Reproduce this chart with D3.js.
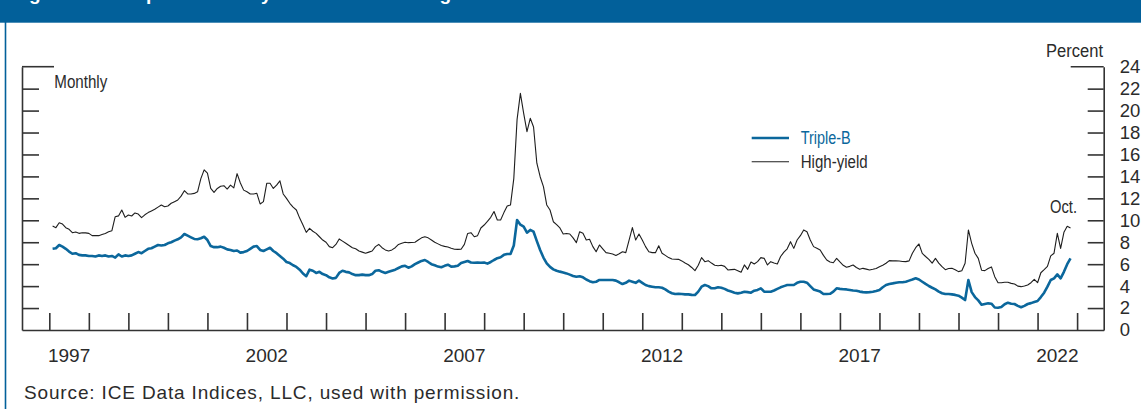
<!DOCTYPE html>
<html>
<head>
<meta charset="utf-8">
<script src="https://cdn.jsdelivr.net/npm/d3@7/dist/d3.min.js"></script>
<style>
  html, body { margin: 0; padding: 0; background: #fff; }
  svg { display: block; }
</style>
</head>
<body>
<svg id="chart" width="1141" height="409"></svg>
<script>
// ---- Data (monthly, Jan 1997 – Oct 2022, percent) ----
const startYear = 1997;
const seriesNames = ["Triple-B", "High-yield"];
const yTickValues = [0, 2, 4, 6, 8, 10, 12, 14, 16, 18, 20, 22, 24];
const yearTicks = d3.range(1997, 2024);
const yearLabels = [1997, 2002, 2007, 2012, 2017, 2022];

const highYield = [
  // 1997
  9.48, 9.33, 9.78, 9.66, 9.33, 9.18, 8.87, 8.93, 8.81, 8.87, 8.85, 8.81,
  // 1998
  8.6, 8.6, 8.6, 8.7, 8.8, 8.95, 9.05, 10.33, 10.4, 10.94, 10.27, 10.48,
  // 1999
  10.39, 10.67, 10.57, 10.24, 10.5, 10.7, 10.85, 11.0, 11.2, 11.4, 11.24, 11.3,
  // 2000
  11.55, 11.7, 11.85, 12.2, 12.7, 12.4, 12.4, 12.45, 12.6, 13.8, 14.6, 14.3,
  // 2001
  12.9, 12.55, 12.9, 13.1, 13.15, 12.85, 13.2, 12.95, 14.25, 13.4, 12.75, 12.6,
  // 2002
  12.4, 12.4, 12.46, 11.49, 11.7, 13.37, 13.37, 12.9, 13.2, 13.6, 12.4, 12.0,
  // 2003
  11.55, 11.2, 10.94, 10.2, 9.57, 8.9, 9.27, 9.0, 8.81, 8.5, 8.2, 8.0,
  // 2004
  7.6, 7.5, 7.8, 8.3, 8.1, 7.9, 7.7, 7.5, 7.4, 7.2, 7.1, 7.0,
  // 2005
  7.1, 7.2, 7.6, 7.8, 7.5, 7.3, 7.2, 7.3, 7.5, 7.8, 7.9, 8.0,
  // 2006
  7.96, 7.98, 8.0, 8.2, 8.4, 8.5, 8.4, 8.2, 8.0, 7.85, 7.7, 7.62,
  // 2007
  7.56, 7.45, 7.36, 7.35, 7.36, 7.8, 8.8, 8.87, 8.5, 8.6, 9.3, 9.57,
  // 2008
  9.9, 10.27, 10.8, 10.03, 10.03, 10.7, 11.3, 11.4, 13.8, 19.2, 21.57, 19.75,
  // 2009
  18.08, 19.3, 18.5, 15.2, 13.97, 13.07, 11.4, 10.94, 9.87, 9.6, 9.3, 8.75,
  // 2010
  8.8, 8.75, 8.4, 7.96, 8.96, 8.81, 8.2, 8.27, 7.6, 7.13, 7.75, 7.4,
  // 2011
  7.05, 7.0, 6.93, 6.8, 6.95, 7.13, 7.05, 8.2, 9.33, 8.2, 8.75, 8.2,
  // 2012
  7.6, 7.13, 7.05, 7.05, 7.68, 7.0, 6.8, 6.6, 6.47, 6.45, 6.44, 6.3,
  // 2013
  6.1, 5.95, 5.7, 5.41, 5.9, 6.6, 6.23, 6.32, 6.1, 5.9, 5.86, 5.9,
  // 2014
  5.8, 5.47, 5.5, 5.53, 5.4, 5.26, 5.93, 5.53, 6.2, 6.02, 6.23, 6.6,
  // 2015
  6.53, 5.93, 6.23, 6.1, 6.02, 6.7, 7.1, 7.4, 8.05, 7.44, 8.2, 8.6,
  // 2016
  9.12, 8.96, 8.2, 7.6, 7.45, 7.29, 6.8, 6.38, 6.2, 6.13, 6.53, 6.2,
  // 2017
  5.9, 5.72, 5.8, 5.93, 5.7, 5.53, 5.62, 5.55, 5.47, 5.53, 5.6, 5.77,
  // 2018
  5.9, 6.08, 6.32, 6.3, 6.3, 6.29, 6.25, 6.23, 6.3, 7.0, 7.5, 7.84,
  // 2019
  6.99, 6.7, 6.44, 6.1, 6.53, 6.1, 5.77, 5.5, 5.6, 5.62, 5.5, 5.32,
  // 2020
  5.4, 6.08, 9.12, 7.9, 7.0, 6.53, 5.45, 5.41, 5.6, 5.75, 4.86, 4.31,
  // 2021
  4.3, 4.35, 4.35, 4.25, 4.19, 4.0, 3.95, 4.01, 4.1, 4.31, 4.62, 4.31,
  // 2022 (Jan–Oct)
  5.22, 5.5, 5.8, 6.75, 7.0, 8.81, 7.44, 8.9, 9.45, 9.3
];

const tripleB = [
  // 1997
  7.4, 7.45, 7.75, 7.6, 7.4, 7.15, 6.95, 7.0, 6.85, 6.8, 6.8, 6.75,
  // 1998
  6.75, 6.7, 6.8, 6.75, 6.8, 6.7, 6.75, 6.6, 6.9, 6.7, 6.8, 6.75,
  // 1999
  6.8, 6.95, 7.1, 7.0, 7.2, 7.4, 7.45, 7.6, 7.75, 7.7, 7.75, 7.9,
  // 2000
  8.0, 8.15, 8.27, 8.45, 8.75, 8.6, 8.45, 8.3, 8.27, 8.36, 8.5, 8.2,
  // 2001
  7.65, 7.55, 7.55, 7.6, 7.5, 7.35, 7.3, 7.2, 7.25, 7.05, 7.1, 7.2,
  // 2002
  7.4, 7.6, 7.65, 7.3, 7.2, 7.35, 7.5, 7.2, 7.0, 6.75, 6.5, 6.2,
  // 2003
  6.1, 5.9, 5.75, 5.5, 5.15, 4.9, 5.5, 5.4, 5.2, 5.3, 5.1, 5.0,
  // 2004
  4.8, 4.7, 4.75, 5.2, 5.4, 5.3, 5.25, 5.1, 5.0, 5.0, 5.05, 5.0,
  // 2005
  5.0, 5.1, 5.4, 5.45, 5.3, 5.2, 5.3, 5.4, 5.5, 5.65, 5.8, 5.85,
  // 2006
  5.68, 5.8, 6.0, 6.15, 6.3, 6.38, 6.2, 6.0, 5.9, 5.78, 5.72, 5.85,
  // 2007
  5.95, 5.78, 5.8, 5.85, 6.1, 6.2, 6.29, 6.15, 6.13, 6.15, 6.13, 6.15,
  // 2008
  6.05, 6.2, 6.38, 6.55, 6.63, 6.85, 6.93, 6.93, 7.7, 10.03, 9.6, 9.42,
  // 2009
  8.87, 9.12, 8.96, 8.1, 7.29, 6.6, 6.08, 5.75, 5.53, 5.4, 5.32, 5.25,
  // 2010
  5.16, 5.05, 4.92, 4.85, 4.9, 4.8, 4.6, 4.45, 4.35, 4.4, 4.56, 4.56,
  // 2011
  4.56, 4.56, 4.56, 4.5, 4.35, 4.19, 4.3, 4.5, 4.4, 4.3, 4.5, 4.3,
  // 2012
  4.1, 4.0, 3.95, 3.9, 3.89, 3.85, 3.7, 3.5, 3.35, 3.28, 3.3, 3.28,
  // 2013
  3.25, 3.25, 3.2, 3.19, 3.5, 3.95, 4.1, 4.0, 3.8, 3.8, 3.89, 3.85,
  // 2014
  3.75, 3.6, 3.5, 3.4, 3.34, 3.4, 3.49, 3.45, 3.4, 3.58, 3.65, 3.8,
  // 2015
  3.5, 3.49, 3.49, 3.6, 3.75, 3.89, 4.0, 4.1, 4.1, 4.1, 4.3, 4.4,
  // 2016
  4.4, 4.31, 4.0, 3.7, 3.6, 3.5, 3.28, 3.28, 3.3, 3.49, 3.8, 3.75,
  // 2017
  3.72, 3.7, 3.65, 3.6, 3.58, 3.5, 3.45, 3.43, 3.45, 3.49, 3.55, 3.65,
  // 2018
  3.9, 4.1, 4.2, 4.25, 4.31, 4.35, 4.35, 4.4, 4.5, 4.6, 4.71, 4.6,
  // 2019
  4.4, 4.2, 4.01, 3.85, 3.7, 3.5, 3.35, 3.28, 3.28, 3.25, 3.2, 3.13,
  // 2020
  2.95, 2.73, 4.56, 3.45, 3.0, 2.7, 2.3, 2.37, 2.43, 2.4, 2.05, 2.03,
  // 2021
  2.1, 2.35, 2.49, 2.4, 2.37, 2.2, 2.07, 2.2, 2.37, 2.45, 2.55, 2.64,
  // 2022 (Jan–Oct)
  3.0, 3.4, 3.95, 4.56, 4.71, 5.07, 4.71, 5.3, 6.0, 6.53
];

// ---- Layout ----
const svg = d3.select("#chart");
const W = 1141, H = 409;
const blue = "#0b679c";
const barBlue = "#02609a";
const axisColor = "#333";
const textColor = "#2b2b2b";
const sansFont = "'Liberation Sans', Arial, sans-serif";

const plotLeft = 22, plotRight = 1103.7, plotTop = 66.7, plotBottom = 330;

const x = d3.scaleLinear().domain([1996.309, 2023.673]).range([plotLeft, plotRight]);
const y = d3.scaleLinear().domain([0, 24]).range([plotBottom, plotTop]);

// month-end time positions
const toT = i => startYear + (i + 1) / 12;

// condensed label helper (reference uses a condensed face)
function condText(sel, str, width) {
  return sel.attr("font-family", sansFont)
    .attr("textLength", width).attr("lengthAdjust", "spacingAndGlyphs")
    .text(str);
}

// Title bar
svg.append("rect").attr("x", 0).attr("y", 0).attr("width", W).attr("height", 22.7).attr("fill", barBlue);
svg.append("text")
  .attr("x", 12).attr("y", -0.5)
  .attr("fill", "#fff")
  .attr("font-family", sansFont).attr("font-weight", "bold").attr("font-size", 19)
  .text("Figure 2-4. Corporate bond yields rose to the high end of their historical distribution");
// left border
svg.append("line").attr("x1", 5.5).attr("x2", 5.5).attr("y1", 22).attr("y2", H)
  .attr("stroke", barBlue).attr("stroke-width", 1.6);

// ---- Axes ----
const leftTicks = yTickValues.filter(v => v > 0 && v < 24);

const gLeft = svg.append("g").attr("transform", `translate(${plotLeft},0)`)
  .call(d3.axisRight(y).tickValues(leftTicks).tickSize(17).tickSizeOuter(0).tickFormat(""));
const gRight = svg.append("g").attr("transform", `translate(${plotRight},0)`)
  .call(d3.axisLeft(y).tickValues(leftTicks).tickSize(16).tickSizeOuter(0).tickFormat(""));
const gBottom = svg.append("g").attr("transform", `translate(0,${plotBottom})`)
  .call(d3.axisTop(x).tickValues(yearTicks).tickSize(17).tickSizeOuter(0).tickFormat(""));

[gLeft, gRight, gBottom].forEach(g => {
  g.selectAll("path.domain").attr("stroke", axisColor).attr("stroke-width", 1.6);
  g.selectAll(".tick line").attr("stroke", axisColor).attr("stroke-width", 1.6);
});

// top caps (longer tick at 24)
svg.append("line").attr("x1", plotLeft).attr("x2", plotLeft + 32)
  .attr("y1", y(24)).attr("y2", y(24)).attr("stroke", axisColor).attr("stroke-width", 1.6);
svg.append("line").attr("x1", plotRight - 33).attr("x2", plotRight)
  .attr("y1", y(24)).attr("y2", y(24)).attr("stroke", axisColor).attr("stroke-width", 1.6);

// right tick labels
const gRightLab = svg.append("g").attr("transform", `translate(${plotRight},0)`)
  .call(d3.axisRight(y).tickValues(yTickValues).tickSize(0).tickPadding(16).tickFormat(d3.format("d")));
gRightLab.select("path.domain").remove();
gRightLab.selectAll("text").attr("font-family", sansFont).attr("font-size", 18.5).attr("fill", textColor);

// year labels centered in the year
svg.append("g").selectAll("text").data(yearLabels).join("text")
  .attr("x", d => x(d + 0.5)).attr("y", 361.5)
  .attr("text-anchor", "middle")
  .attr("font-family", sansFont).attr("font-size", 19).attr("fill", textColor)
  .text(d => d);

// ---- Lines ----
const line = d3.line().x((d, i) => x(toT(i))).y(d => y(d));

svg.append("path").datum(highYield)
  .attr("d", line).attr("fill", "none").attr("stroke", "#1e1e1e").attr("stroke-width", 1.1)
  .attr("stroke-linejoin", "round");
svg.append("path").datum(tripleB)
  .attr("d", line).attr("fill", "none").attr("stroke", blue).attr("stroke-width", 2.6)
  .attr("stroke-linejoin", "round");

// ---- Labels ----
condText(svg.append("text").attr("x", 54.3).attr("y", 88.3)
  .attr("font-size", 17.5).attr("fill", textColor), "Monthly", 53);
condText(svg.append("text").attr("x", 1046).attr("y", 57.3)
  .attr("font-size", 18).attr("fill", textColor), "Percent", 57);
condText(svg.append("text").attr("x", 1050).attr("y", 213.3)
  .attr("font-size", 17.5).attr("fill", textColor), "Oct.", 27);

// legend
const legend = svg.append("g");
const legendItems = [
  { name: seriesNames[0], color: blue, width: 2.6, textColor: blue, y: 138, len: 50 },
  { name: seriesNames[1], color: "#1e1e1e", width: 1.1, textColor: textColor, y: 161.7, len: 67 }
];
legendItems.forEach(it => {
  legend.append("line").attr("x1", 751.7).attr("x2", 789).attr("y1", it.y).attr("y2", it.y)
    .attr("stroke", it.color).attr("stroke-width", it.width);
  condText(legend.append("text").attr("x", 800.7).attr("y", it.y + 6.3)
    .attr("font-size", 17.5).attr("fill", it.textColor), it.name, it.len);
});

// source
svg.append("text").attr("x", 24).attr("y", 399)
  .attr("font-family", sansFont).attr("font-size", 19).attr("letter-spacing", 0.85).attr("fill", textColor)
  .text("Source: ICE Data Indices, LLC, used with permission.");
</script>
</body>
</html>
